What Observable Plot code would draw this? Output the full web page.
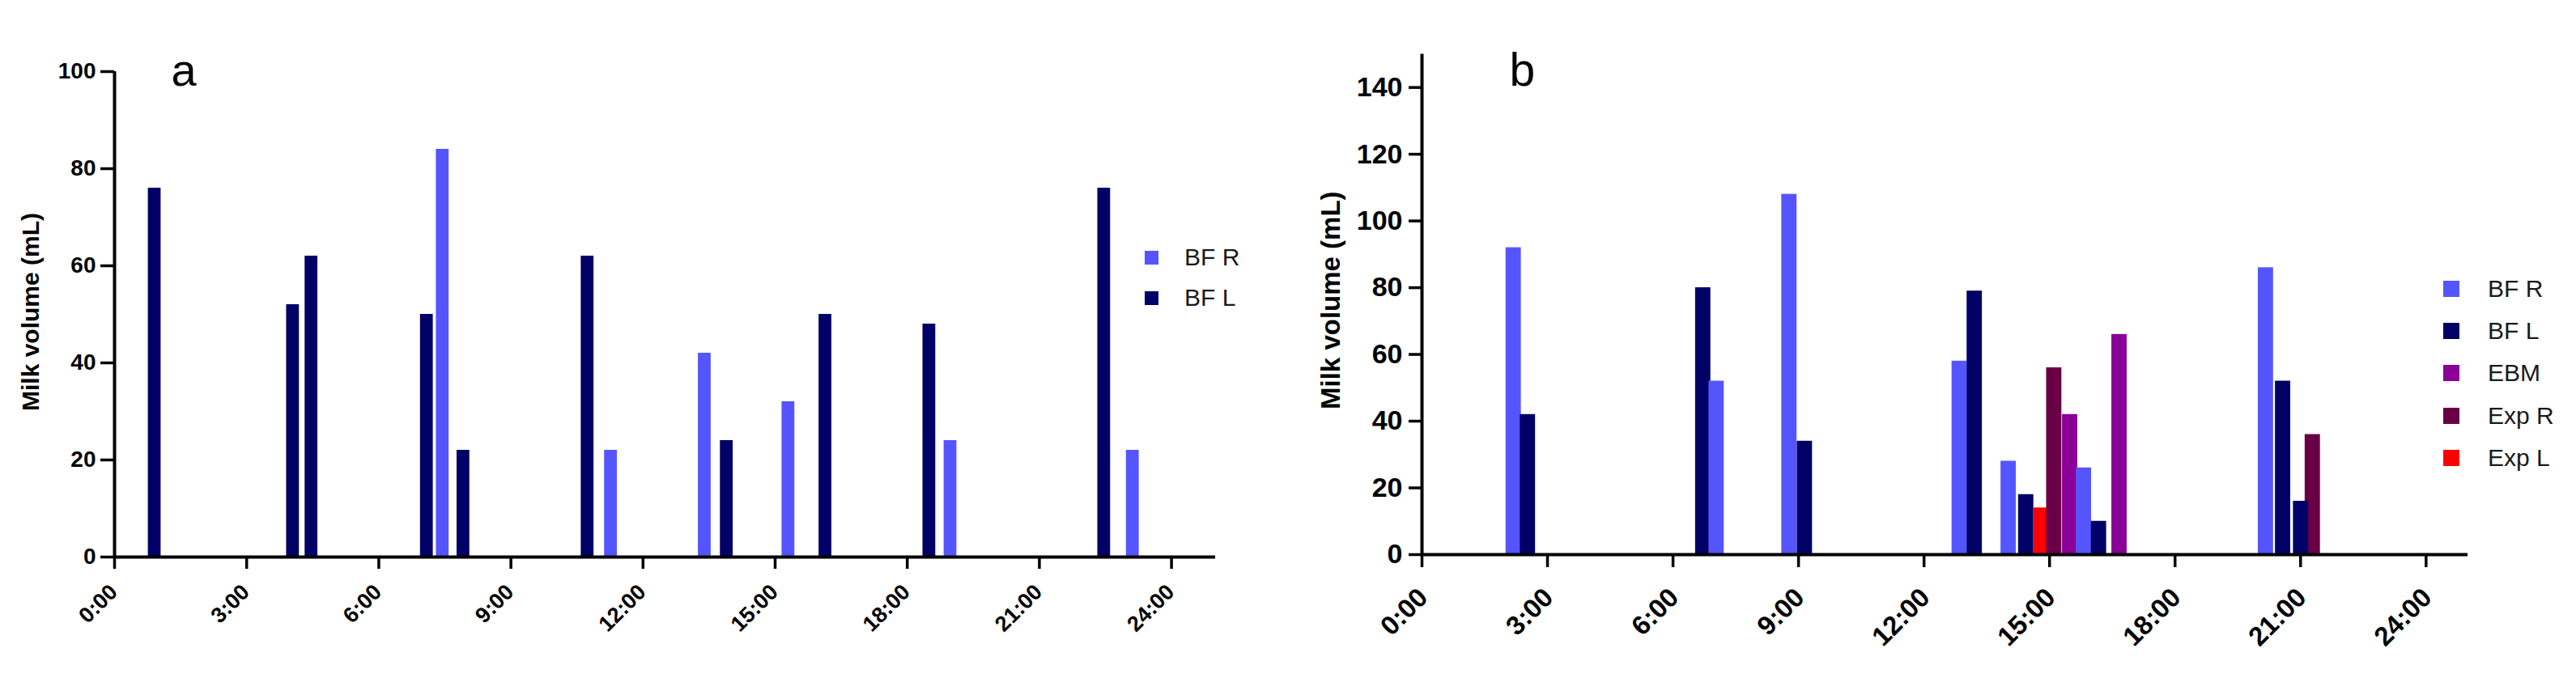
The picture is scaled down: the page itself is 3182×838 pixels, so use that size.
<!DOCTYPE html>
<html>
<head>
<meta charset="utf-8">
<script src="https://cdn.jsdelivr.net/npm/d3@7"></script>
<script src="https://cdn.jsdelivr.net/npm/@observablehq/plot@0.6"></script>
<style>
html, body { margin: 0; padding: 0; background: #fff; }
#wrap { position: relative; width: 3182px; height: 838px; overflow: hidden; font-family: "Liberation Sans", Arial, sans-serif; }
.panel { position: absolute; top: 0; }
.legend { position: absolute; font-family: "Liberation Sans", Arial, sans-serif; font-size: 30px; color: #1a1a1a; }
.item { display: flex; align-items: center; white-space: nowrap; }
.sw { flex: none; }
</style>
</head>
<body>
<div id="wrap"></div>
<script>
// ---------- data ----------
const seriesNames  = ["BF R", "BF L", "EBM", "Exp R", "Exp L"];
const seriesColors = ["#5555ff", "#000066", "#8a0099", "#690046", "#ff0000"];
const hourTicks = [0, 3, 6, 9, 12, 15, 18, 21, 24];
const aTicksY = [0, 20, 40, 60, 80, 100];
const bTicksY = [0, 20, 40, 60, 80, 100, 120, 140];

// panel a: time of feed (hours), series, volume (mL)
const aTimes  = [0.91, 4.05, 4.47, 7.09, 7.45, 7.92, 10.74, 11.27, 13.40, 13.90, 15.30, 16.14, 18.50, 18.98, 22.47, 23.12];
const aSeries = ["BF L","BF L","BF L","BF L","BF R","BF L","BF L","BF R","BF R","BF L","BF R","BF L","BF L","BF R","BF L","BF R"];
const aValues = [76, 52, 62, 50, 84, 22, 62, 22, 42, 24, 32, 50, 48, 24, 76, 22];

// panel b: (listed in drawing order)
const bTimes  = [2.19, 2.53, 6.72, 7.04, 8.78, 9.15, 12.85, 13.21, 14.02, 14.44, 14.81, 15.11, 15.49, 15.82, 16.18, 16.67, 20.17, 20.58, 21.29, 21.01];
const bSeries = ["BF R","BF L","BF L","BF R","BF R","BF L","BF R","BF L","BF R","BF L","Exp L","Exp R","EBM","BF R","BF L","EBM","BF R","BF L","Exp R","BF L"];
const bValues = [92, 42, 80, 52, 108, 34, 58, 79, 28, 18, 14, 56, 42, 26, 10, 66, 86, 52, 36, 16];

const aLegend = ["BF R", "BF L"];
const bLegend = ["BF R", "BF L", "EBM", "Exp R", "Exp L"];

// ---------- drawing ----------
const FONT = "Liberation Sans, Arial, Helvetica, sans-serif";
const wrap = document.getElementById("wrap");

function makePanel(cfg) {
  const data = cfg.times.map((t, i) => ({t, s: cfg.series[i], v: cfg.values[i]}));
  const half = cfg.barW / 2;
  const plot = Plot.plot({
    width: cfg.width, height: 838,
    marginLeft: cfg.ml, marginRight: cfg.mr, marginTop: cfg.mt, marginBottom: cfg.mb,
    x: {domain: [0, 25]},
    y: {domain: [0, cfg.yMax]},
    color: {domain: seriesNames, range: seriesColors},
    style: {fontFamily: FONT, background: "transparent", color: "black", overflow: "visible"},
    marks: [
      Plot.rectY(data, {x1: d => d.t - half, x2: d => d.t + half, y1: 0, y2: "v", fill: "s", inset: 0}),
      Plot.ruleY([0], {x1: 0, x2: 25, stroke: "black", strokeWidth: 4}),
      Plot.ruleX([0], {y1: 0, y2: cfg.yMax, stroke: "black", strokeWidth: 4}),
      Plot.axisY({ticks: cfg.yTicks, tickSize: cfg.ytSize, tickPadding: cfg.ytPad, fontSize: cfg.yFont,
                  fontWeight: "bold", strokeWidth: 3.5, stroke: "black", fill: "black", label: null}),
      Plot.axisX({ticks: hourTicks, tickSize: cfg.xtSize, strokeWidth: 3.5, stroke: "black", fill: "none",
                  tickFormat: () => "", label: null}),
      Plot.text(hourTicks, {x: d => d, text: d => `${d}:00`, frameAnchor: "bottom", rotate: -45,
                textAnchor: "end", lineAnchor: "bottom", dx: cfg.xlDx, dy: cfg.xlDy,
                fontSize: cfg.xFont, fontWeight: "bold", fill: "black"}),
      Plot.text(["Milk volume (mL)"], {text: d => d, frameAnchor: "left", rotate: -90, textAnchor: "middle",
                dx: cfg.ylDx, dy: cfg.ylDy, fontSize: cfg.ylFont, fontWeight: "bold", fill: "black"}),
      Plot.text([cfg.letter], {text: d => d, frameAnchor: "top-left", textAnchor: "start", lineAnchor: "bottom",
                dx: cfg.letDx, dy: cfg.letDy, fontSize: cfg.letFont, fill: "black"})
    ]
  });
  plot.classList.add("panel");
  plot.style.left = cfg.left + "px";
  wrap.appendChild(plot);

  const lg = document.createElement("div");
  lg.className = "legend";
  lg.style.left = cfg.lgLeft + "px";
  lg.style.top = cfg.lgTop + "px";
  lg.style.fontSize = cfg.lgFont + "px";
  cfg.legend.forEach(name => {
    const row = document.createElement("div");
    row.className = "item";
    row.style.height = cfg.lgRow + "px";
    const sw = document.createElement("div");
    sw.className = "sw";
    sw.style.width = cfg.lgSw + "px";
    sw.style.height = cfg.lgSw + "px";
    sw.style.background = seriesColors[seriesNames.indexOf(name)];
    sw.style.marginRight = cfg.lgGap + "px";
    const tx = document.createElement("span");
    tx.textContent = name;
    row.appendChild(sw);
    row.appendChild(tx);
    lg.appendChild(row);
  });
  wrap.appendChild(lg);
}

makePanel({
  left: 0, width: 1591, ml: 141, mr: 90, mt: 88, mb: 150,
  times: aTimes, series: aSeries, values: aValues, barW: 0.29,
  yMax: 100, yTicks: aTicksY, ytSize: 17, ytPad: 6, yFont: 28,
  xtSize: 15, xFont: 27, xlDx: 5, xlDy: 45,
  ylDx: -103, ylDy: -3, ylFont: 30,
  letter: "a", letDx: 70, letDy: 17, letFont: 56,
  legend: aLegend, lgLeft: 1414, lgTop: 293, lgRow: 50, lgSw: 17, lgGap: 32, lgFont: 30
});

makePanel({
  left: 1591, width: 1591, ml: 165, mr: 134, mt: 66.4, mb: 153,
  times: bTimes, series: bSeries, values: bValues, barW: 0.365,
  yMax: 150, yTicks: bTicksY, ytSize: 16, ytPad: 8, yFont: 34,
  xtSize: 16, xFont: 33, xlDx: 9, xlDy: 55,
  ylDx: -112, ylDy: -5, ylFont: 33,
  letter: "b", letDx: 108, letDy: 38.6, letFont: 57,
  legend: bLegend, lgLeft: 3018, lgTop: 331, lgRow: 52.2, lgSw: 20, lgGap: 35, lgFont: 30
});
</script>
</body>
</html>
